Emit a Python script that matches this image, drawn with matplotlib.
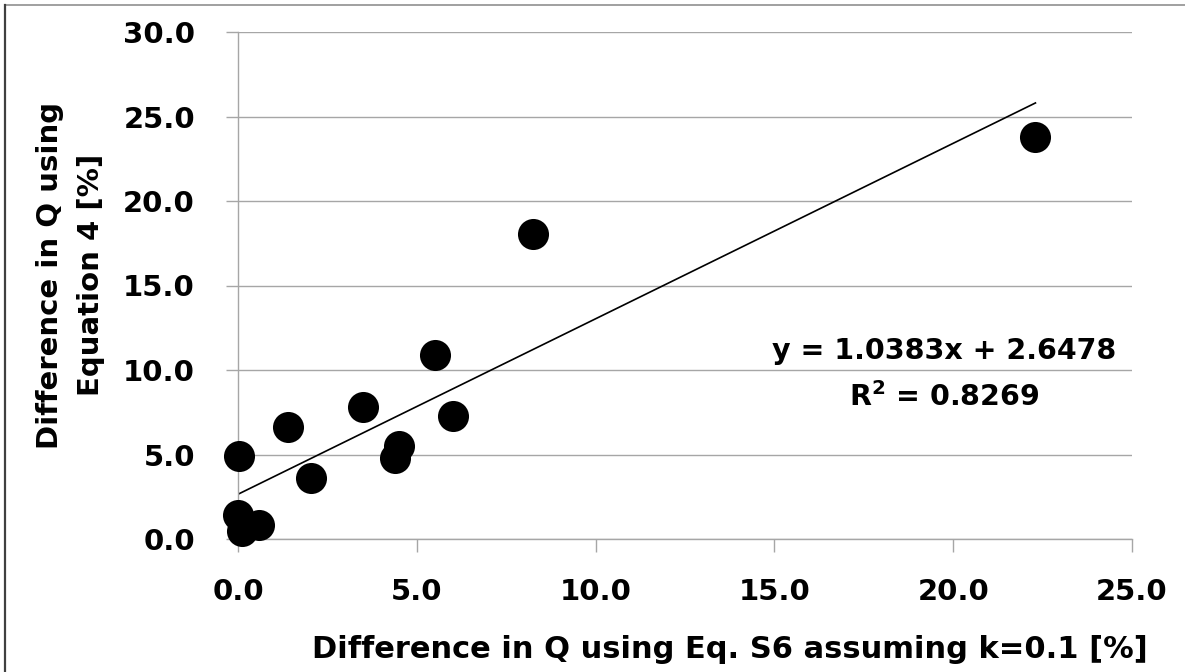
import matplotlib.pyplot as plt
from matplotlib.lines import Line2D
import numpy as np

# Scatter data (x: Eq. S6 with k=0.1, y: Equation 4), in %
x_vals = [0.03, 0.0, 0.1, 0.6, 1.4, 2.05, 3.5, 4.4, 4.5, 5.5, 6.0, 8.25, 22.3]
y_vals = [4.9, 1.4, 0.5, 0.8, 6.6, 3.6, 7.8, 4.8, 5.5, 10.9, 7.3, 18.05, 23.8]

# Linear trendline shown on the chart
slope = 1.0383
intercept = 2.6478
r_squared = 0.8269

x_ticks = [0, 5, 10, 15, 20, 25]
y_ticks = [0, 5, 10, 15, 20, 25, 30]

plt.rcParams["font.family"] = ["DejaVu Sans"]
plt.rcParams["mathtext.fontset"] = "dejavusans"

fig = plt.figure(figsize=(11.85, 6.72), dpi=100)
ax = fig.add_axes([238 / 1185, 133 / 672, 894 / 1185, 507 / 672])

ax.set_axisbelow(True)
ax.yaxis.grid(True, color="#a6a6a6", linewidth=1.0)

ax.scatter(x_vals, y_vals, s=500, color="black", zorder=3, linewidths=0, clip_on=False)

x_fit = np.array([min(x_vals), max(x_vals)])
ax.plot(x_fit, slope * x_fit + intercept, color="black", linewidth=1.2, zorder=2)

ax.text(19.75, 11.1, f"y = {slope:.4f}x + {intercept:.4f}", ha="center",
        va="center", fontsize=20.5, fontweight="bold")
ax.text(19.75, 8.4, f"R$\\mathbf{{^2}}$ = {r_squared:.4f}", ha="center",
        va="center", fontsize=20.5, fontweight="bold")

ax.set_xlim(0, 25)
ax.set_ylim(0, 30)
ax.set_xticks(x_ticks)
ax.set_yticks(y_ticks)
ax.set_xticklabels([f"{t:.1f}" for t in x_ticks], fontweight="bold")
ax.set_yticklabels([f"{t:.1f}" for t in y_ticks], fontweight="bold")
ax.tick_params(axis="both", labelsize=21, colors="#a6a6a6", length=9, width=1.0,
               labelcolor="black")
ax.tick_params(axis="x", pad=19)
ax.tick_params(axis="y", pad=22)

for side in ["top", "right"]:
    ax.spines[side].set_visible(False)
for side in ["left", "bottom"]:
    ax.spines[side].set_color("#a6a6a6")
    ax.spines[side].set_linewidth(1.0)

ax.set_xlabel("Difference in Q using Eq. S6 assuming k=0.1 [%]", fontsize=22,
              fontweight="bold")
ax.xaxis.set_label_coords(0.55, -0.19)
ax.set_ylabel("Difference in Q using\nEquation 4 [%]", fontsize=21,
              fontweight="bold", linespacing=1.6)
ax.yaxis.set_label_coords(-0.149, 0.52)

# partial frame seen in the screenshot: top edge and left edge
fig.add_artist(Line2D([5 / 1185, 1.0], [667 / 672, 667 / 672], transform=fig.transFigure,
                      color="#909090", linewidth=1.2))
fig.add_artist(Line2D([5 / 1185, 5 / 1185], [0.0, 667 / 672], transform=fig.transFigure,
                      color="#404040", linewidth=1.6))

fig.savefig("out.png", dpi=100)
